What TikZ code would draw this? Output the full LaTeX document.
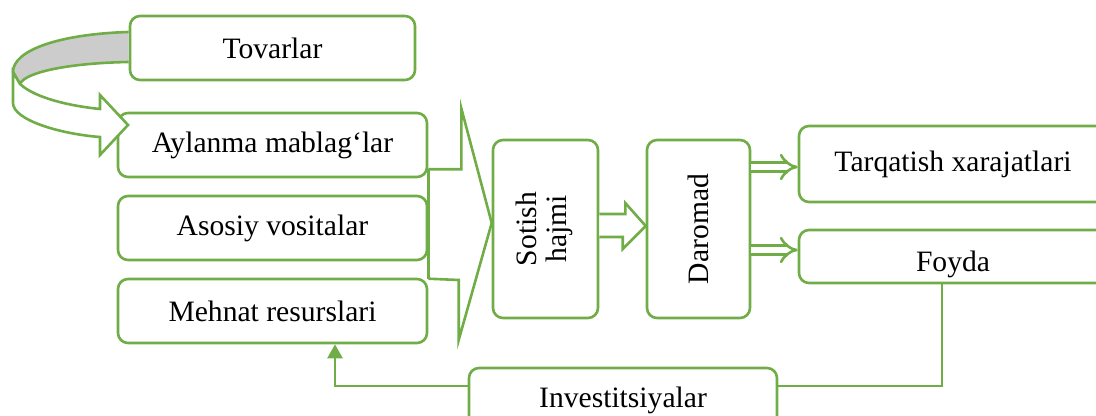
\documentclass[tikz,border=0pt]{standalone}
\usepackage{fontspec}
\setmainfont{Liberation Serif}
\usetikzlibrary{arrows.meta}
\definecolor{leaf}{HTML}{70AD47}

\begin{document}
\begin{tikzpicture}[node distance=41.5pt, font=\fontsize{14.8pt}{15pt}\selectfont, line width=1.3pt]
  \tikzstyle{block} = [rectangle, draw=leaf, fill=white, text centered, rounded corners=5pt,
                                    minimum width=154.5pt, minimum height=32pt]
  \tikzstyle{tall} = [block, minimum width=52.5pt, minimum height=89pt]
  \tikzstyle{link} = [draw=leaf, line join=miter]
  \tikzstyle{dbl} = [draw=leaf, double=white, double distance=3.2pt, -{Implies}]
\useasboundingbox (0,0) rectangle (548pt,-208pt);
\node[block] (ayl) at (136.25pt,-72.5pt) {Aylanma mablag‘lar};
\node[block, minimum width=142.5pt, above of=ayl, yshift=7pt] (tov) {Tovarlar};
\node[block, below of=ayl] (aso) {Asosiy vositalar};
\node[block, below of=aso] (meh) {Mehnat resurslari};
\node[tall, right of=aso, xshift=95pt, yshift=-0.5pt] (sot) {\rotatebox{90}{\begin{tabular}{@{}c@{}}Sotish\\hajmi\end{tabular}}};
\node[tall, minimum width=51.5pt, right of=sot, xshift=35pt] (dar) {\rotatebox{90}{Daromad}};
\node[block, minimum width=154pt, minimum height=38pt, right of=dar, xshift=85.75pt, yshift=32.5pt] (tar) {Tarqatish xarajatlari};
\node[block, minimum width=154pt, minimum height=26.5pt, below of=tar, yshift=-4.75pt] (foy) {\raisebox{-4pt}[\height][\depth]{Foyda}};
\node[block, minimum width=154pt, below of=sot, xshift=38.75pt, yshift=-44pt] (inv) {Investitsiyalar};
\draw[link] ([yshift=4.5pt]ayl.south east) -- ++(16.5pt,0) -- ++(0,30.5pt) -- ([yshift=3pt]sot.west)
  -- ++(-16.5pt,-58.5pt) -- ++(0,30pt) -- ([yshift=-0.5pt]meh.north east);
\draw[link] ([yshift=4.5pt]ayl.south east) -- ([yshift=-0.5pt]meh.north east);
\draw[link, fill=white] ([yshift=7.5pt]sot.east) -- ++(13pt,0) -- ++(0,5.5pt) -- ([yshift=1.5pt]dar.west)
  -- ++(-11.5pt,-11.5pt) -- ++(0,6pt) -- ([yshift=-4pt]sot.east);
\draw[dbl] ([yshift=-1.5pt]tar.west -| dar.east) -- ([yshift=-1.5pt]tar.west);
\draw[dbl] ([yshift=3.25pt]foy.west -| dar.east) -- ([yshift=3.25pt]foy.west);
\draw[link, -{Triangle[length=7pt,width=7.5pt]}] ([yshift=7pt]inv.west) -| ([xshift=31.25pt]meh.south);
\draw[link] ([yshift=7pt]inv.east) -| ([xshift=-5.5pt]foy.south);
\draw[link, fill=black!20] ([yshift=8pt]tov.west) .. controls (30pt,-17pt) and (6.5pt,-25pt) .. (6.5pt,-36pt)
  -- (10pt,-42pt) .. controls (12.5pt,-36pt) and (35pt,-31.5pt) .. ([yshift=-7pt]tov.west);
\draw[link, fill=white] (6.5pt,-36pt) -- (6.5pt,-51.5pt) .. controls (6.5pt,-60pt) and (30pt,-67pt) .. (50pt,-68.5pt)
  -- (50pt,-77.5pt) -- (64pt,-62.5pt) -- (50pt,-47.5pt) -- (50pt,-54.5pt)
  .. controls (35pt,-53pt) and (17.5pt,-49pt) .. (10pt,-42pt) -- cycle;
\end{tikzpicture}
\end{document}
